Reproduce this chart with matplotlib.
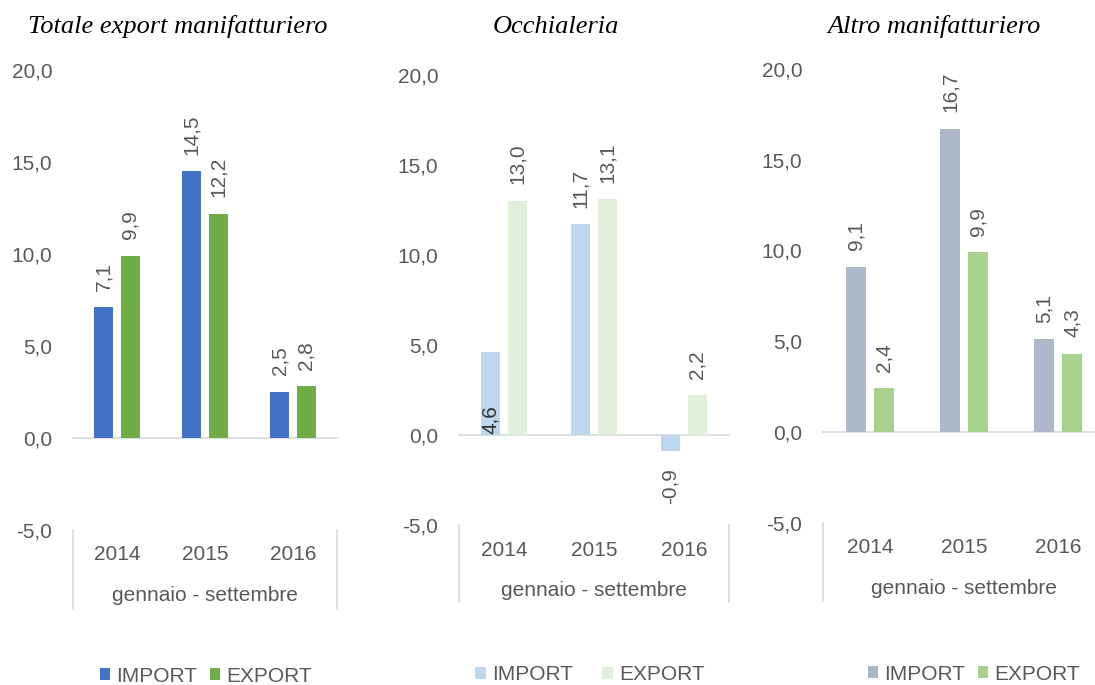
import matplotlib
matplotlib.use("Agg")
import matplotlib.pyplot as plt
import numpy as np

# ---- data ----
YEARS = ["2014", "2015", "2016"]
GROUP_LABEL = "gennaio - settembre"
SERIES = ["IMPORT", "EXPORT"]

TITLES = ["Totale export manifatturiero", "Occhialeria", "Altro manifatturiero"]
IMPORT_TOT = [7.1, 14.5, 2.5]
EXPORT_TOT = [9.9, 12.2, 2.8]
IMPORT_OCC = [4.6, 11.7, -0.9]
EXPORT_OCC = [13.0, 13.1, 2.2]
IMPORT_ALT = [9.1, 16.7, 5.1]
EXPORT_ALT = [2.4, 9.9, 4.3]

COLORS = [("#4472C4", "#70AD47"), ("#BDD7EE", "#E2EFDA"), ("#ADB9CA", "#A9D18E")]
YTICKS = [-5, 0, 5, 10, 15, 20]

W, H = 1095, 685
GRAY = "#595959"
LINE = "#D9D9D9"
FONT = "Liberation Sans"

# pixel layout per panel: (left, right, y at 0, y at 20, title x, legend x, legend y, legend col spacing)
LAYOUT = [
    (73, 337, 438, 70, 178, 206, 676, 0.6),
    (459, 729, 435, 75, 556, 590, 675, 1.4),
    (823, 1105, 432, 69, 934, 974, 674, 0.6),
]


def fmt(v):
    return f"{v:.1f}".replace(".", ",")


fig = plt.figure(figsize=(W / 100, H / 100), dpi=100)

data = [(IMPORT_TOT, EXPORT_TOT), (IMPORT_OCC, EXPORT_OCC), (IMPORT_ALT, EXPORT_ALT)]

for i, ((imp, exp), (cimp, cexp)) in enumerate(zip(data, COLORS)):
    left, right, y0, y20, tx, lx, ly, cs = LAYOUT[i]
    ppu = (y0 - y20) / 20.0
    bottom_px = y0 + 5 * ppu
    ax = fig.add_axes([left / W, 1 - bottom_px / H, (right - left) / W, (bottom_px - y20) / H])
    ax.set_xlim(-0.5, 2.5)
    ax.set_ylim(-5, 20)
    for s in ax.spines.values():
        s.set_visible(False)
    ax.set_facecolor("none")

    x = np.arange(len(YEARS))
    b1 = ax.bar(x - 0.15, imp, width=0.22, color=cimp, label=SERIES[0], zorder=2)
    b2 = ax.bar(x + 0.15, exp, width=0.22, color=cexp, label=SERIES[1], zorder=2)
    ax.axhline(0, color=LINE, lw=1.2, zorder=1, clip_on=False,
               xmax=1 if i < 2 else (W - left) / (right - left))

    ax.set_yticks(YTICKS)
    ax.set_yticklabels([fmt(t) for t in YTICKS], fontsize=15, color=GRAY, family=FONT)
    ax.tick_params(axis="y", length=0, pad=15)
    ax.set_xticks([])

    # data labels
    for xs, vals in ((x - 0.15, imp), (x + 0.15, exp)):
        for xx, v in zip(xs, vals):
            if i == 1 and v == 4.6:
                ax.annotate(fmt(v), (xx, 0), xytext=(0, 1), textcoords="offset points",
                            rotation=90, ha="center", va="bottom", fontsize=15,
                            color="#333333", family=FONT)
            elif v < 0:
                ax.annotate(fmt(v), (xx, v), xytext=(0, -12), textcoords="offset points",
                            rotation=90, ha="center", va="top", fontsize=15,
                            color=GRAY, family=FONT)
            else:
                ax.annotate(fmt(v), (xx, v), xytext=(0, 12), textcoords="offset points",
                            rotation=90, ha="center", va="bottom", fontsize=15,
                            color=GRAY, family=FONT)

    # category axis (multi-level)
    for xx, yl in zip(x, YEARS):
        ax.annotate(yl, (xx, 0), xycoords=("data", "axes fraction"), xytext=(0, -18),
                    textcoords="offset points", ha="center", va="center",
                    fontsize=15, color=GRAY, family=FONT)
    ax.annotate(GROUP_LABEL, (1, 0), xycoords=("data", "axes fraction"), xytext=(0, -47),
                textcoords="offset points", ha="center", va="center",
                fontsize=15, color=GRAY, family=FONT)
    for xe in (-0.5, 2.5):
        ax.plot([xe, xe], [-5, -9.3], color=LINE, lw=1.2, clip_on=False)

    fig.text(tx / W, 1 - 27 / H, TITLES[i], ha="center", va="center", fontsize=19,
             style="italic", family="Liberation Serif", color="black")

    ax.legend(handles=[b1, b2], loc="center", bbox_to_anchor=(lx / W, 1 - ly / H),
              bbox_transform=fig.transFigure, ncol=2, frameon=False,
              prop={"family": FONT, "size": 15}, labelcolor=GRAY,
              handlelength=0.5, handleheight=0.5, handletextpad=0.3,
              columnspacing=cs, borderpad=0, borderaxespad=0)

fig.savefig("out.png", dpi=100)
